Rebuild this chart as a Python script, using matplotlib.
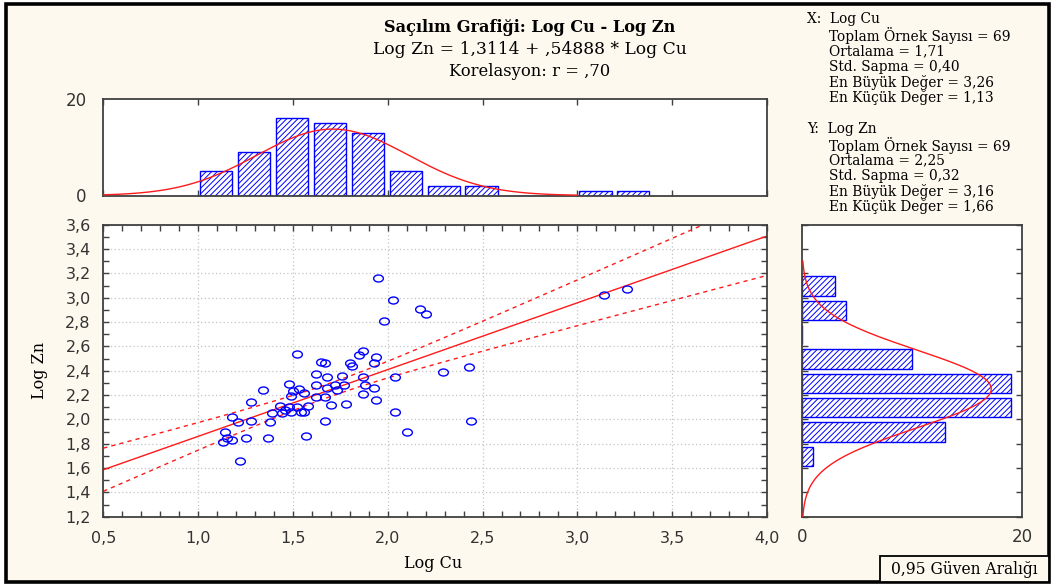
import numpy as np
import matplotlib
matplotlib.use('Agg')
from matplotlib import pyplot as plt
from matplotlib.path import Path
from matplotlib.patches import Rectangle
from matplotlib.ticker import MultipleLocator

# Log Cu / Log Zn ölçümleri
log_cu = [1.95, 2.03, 2.17, 2.20, 1.98, 1.52, 1.87, 1.85, 1.94, 1.93,
          1.65, 1.67, 1.80, 1.81, 1.62, 1.68, 1.76, 1.87, 2.04, 2.29,
          2.43, 1.48, 1.62, 1.72, 1.68, 1.73, 1.77, 1.88, 1.93, 1.34,
          1.53, 1.49, 1.62, 1.67, 1.87, 1.94, 1.28, 1.43, 1.48, 1.52,
          1.58, 1.70, 1.78, 1.39, 1.44, 1.49, 1.54, 1.56, 2.04, 1.18,
          1.21, 1.28, 1.38, 1.67, 2.44, 1.14, 2.10, 1.15, 1.18, 1.13,
          1.25, 1.37, 1.57, 1.22, 3.14, 3.26, 1.56, 1.50, 1.46]
log_zn = [3.16, 2.98, 2.91, 2.87, 2.81, 2.54, 2.56, 2.53, 2.51, 2.46,
          2.47, 2.46, 2.46, 2.44, 2.37, 2.35, 2.36, 2.35, 2.35, 2.39,
          2.43, 2.29, 2.28, 2.28, 2.26, 2.24, 2.28, 2.28, 2.26, 2.24,
          2.25, 2.19, 2.18, 2.18, 2.21, 2.16, 2.14, 2.11, 2.10, 2.10,
          2.11, 2.12, 2.13, 2.05, 2.05, 2.06, 2.06, 2.06, 2.06, 2.02,
          1.98, 1.99, 1.98, 1.99, 1.99, 1.90, 1.90, 1.85, 1.83, 1.81,
          1.85, 1.85, 1.86, 1.66, 3.02, 3.07, 2.22, 2.23, 2.08]

# histogram sınıfları (genişlik 0,2)
cu_bins = [1.0, 1.2, 1.4, 1.6, 1.8, 2.0, 2.2, 2.4, 2.6, 2.8, 3.0, 3.2]
cu_counts = [5, 9, 16, 15, 13, 5, 2, 2, 0, 0, 1, 1]
zn_bins = [1.6, 1.8, 2.0, 2.2, 2.4, 2.6, 2.8, 3.0]
zn_counts = [1, 13, 19, 19, 10, 0, 4, 3]

# özet istatistikler
n = 69
cu_mean, cu_std, cu_max, cu_min = 1.71, 0.40, 3.26, 1.13
zn_mean, zn_std, zn_max, zn_min = 2.25, 0.32, 3.16, 1.66
intercept, slope, r = 1.3114, 0.54888, 0.70
bin_w = 0.2

serif = 'DejaVu Serif'
sans = 'DejaVu Sans'
dark = '#333333'
red = '#ff1a1a'
blue = '#0000ff'
plt.rcParams['hatch.linewidth'] = 0.7

W, H = 1053, 584
fig = plt.figure(figsize=(W / 100, H / 100), dpi=100)
fig.patch.set_facecolor('white')

# krem zemin ve siyah çerçeve
def px_box(x0, y0, x1, y1):
    return (x0 / W, 1 - y1 / H), (x1 - x0) / W, (y1 - y0) / H

xy, w, h = px_box(6, 4, 1049, 582)
fig.patches.append(Rectangle(xy, w, h, transform=fig.transFigure, facecolor='#fdf9ee',
                             edgecolor='black', linewidth=2.6, zorder=-5))

def add_ax(x0, y0, x1, y1):
    xy, w, h = px_box(x0, y0, x1, y1)
    a = fig.add_axes([xy[0], xy[1], w, h])
    a.set_facecolor('white')
    for s in a.spines.values():
        s.set_color('#404040')
        s.set_linewidth(1.3)
    return a

ax = add_ax(103.3, 224.7, 767, 516.7)
axt = add_ax(103.3, 99, 767, 195.5)
axr = add_ax(802, 224.7, 1022, 516.7)

# saçılım grafiği
oval = Path(Path.unit_circle().vertices * [1, 0.72], Path.unit_circle().codes)
ax.plot(log_cu, log_zn, linestyle='none', marker=oval, markersize=7, markerfacecolor='none',
        markeredgecolor=blue, markeredgewidth=1.0, zorder=3)

# regresyon doğrusu ve %95 güven aralığı
xs = np.linspace(0.5, 4.0, 200)
fit = intercept + slope * xs
se_res = zn_std * np.sqrt((1 - r ** 2) * (n - 1) / (n - 2))
half = 1.996 * se_res * np.sqrt(1.0 / n + (xs - cu_mean) ** 2 / ((n - 1) * cu_std ** 2))
ax.plot(xs, fit, color=red, lw=1.0, zorder=2)
ax.plot(xs, fit + half, color=red, lw=1.0, ls=(0, (3, 3)), zorder=2)
ax.plot(xs, fit - half, color=red, lw=1.0, ls=(0, (3, 3)), zorder=2)

ax.set_xlim(0.5, 4.0)
ax.set_ylim(1.2, 3.6)
ax.xaxis.set_major_locator(MultipleLocator(0.5))
ax.xaxis.set_minor_locator(MultipleLocator(0.1))
ax.yaxis.set_major_locator(MultipleLocator(0.2))
ax.yaxis.set_minor_locator(MultipleLocator(0.1))
ax.tick_params(which='both', direction='in', top=True, right=True, length=4, width=1,
               color='#404040', labelsize=11.5, labelcolor=dark)
ax.tick_params(axis='x', pad=10)
ax.tick_params(axis='y', pad=9)
ax.set_xticklabels([('%.1f' % v).replace('.', ',') for v in ax.get_xticks()], family=sans)
ax.set_yticklabels([('%.1f' % v).replace('.', ',') for v in ax.get_yticks()], family=sans)
ax.grid(True, which='major', color='#c4c4c4', linestyle=(0, (1, 2)), linewidth=0.9)
ax.set_axisbelow(True)

# Log Cu histogramı
cu_x = np.array(cu_bins) + 0.01
axt.bar(cu_x, cu_counts, width=0.17, align='edge', facecolor='white', edgecolor=blue,
        hatch='//////', linewidth=1.0, zorder=2)
xc = np.linspace(0.5, 3.0, 200)
yc = n * bin_w * np.exp(-0.5 * ((xc - cu_mean) / cu_std) ** 2) / (cu_std * np.sqrt(2 * np.pi))
axt.plot(xc, yc, color=red, lw=1.0, zorder=3)
axt.set_xlim(0.5, 4.0)
axt.set_ylim(0, 20)
axt.xaxis.set_major_locator(MultipleLocator(0.5))
axt.set_xticklabels([])
axt.set_yticks([0, 20])
axt.tick_params(axis='x', direction='in', top=True, length=4, width=1, color='#404040')
axt.tick_params(axis='y', length=0, labelsize=12, labelcolor=dark, pad=12)

# Log Zn histogramı (yatay)
zn_y = np.array(zn_bins) + 0.017
axr.barh(zn_y, zn_counts, height=0.158, align='edge', facecolor='white', edgecolor=blue,
         hatch='//////', linewidth=1.0, zorder=2)
yz = np.linspace(1.2, 3.3, 200)
xz = n * bin_w * np.exp(-0.5 * ((yz - zn_mean) / zn_std) ** 2) / (zn_std * np.sqrt(2 * np.pi))
axr.plot(xz, yz, color=red, lw=1.0, zorder=3)
axr.set_xlim(0, 20)
axr.set_ylim(1.2, 3.6)
axr.yaxis.set_major_locator(MultipleLocator(0.2))
axr.set_yticklabels([])
axr.set_xticks([0, 20])
axr.tick_params(axis='y', direction='in', right=True, length=4, width=1, color='#404040')
axr.tick_params(axis='x', length=0, labelsize=12, labelcolor=dark, pad=8)

# başlık ve denklem
def ftext(x, y, s, **kw):
    fig.text(x / W, 1 - y / H, s, va='center', family=serif, color='black', **kw)

ftext(530, 27, 'Saçılım Grafiği: Log Cu - Log Zn', ha='center', fontsize=11.6, weight='bold')
ftext(530, 49, 'Log Zn = 1,3114 + ,54888 * Log Cu', ha='center', fontsize=12.3)
ftext(530, 72, 'Korelasyon: r = ,70', ha='center', fontsize=11.8)

# değişken özetleri
def fmt(v):
    return ('%.2f' % v).replace('.', ',')

fs = 9.9
ftext(807, 19, 'X:  Log Cu', ha='left', fontsize=fs)
cu_lines = ['Toplam Örnek Sayısı = %d' % n, 'Ortalama = ' + fmt(cu_mean),
            'Std. Sapma = ' + fmt(cu_std), 'En Büyük Değer = ' + fmt(cu_max),
            'En Küçük Değer = ' + fmt(cu_min)]
for i, s in enumerate(cu_lines):
    ftext(829, 36 + i * 15.4, s, ha='left', fontsize=fs)

ftext(807, 129, 'Y:  Log Zn', ha='left', fontsize=fs)
zn_lines = ['Toplam Örnek Sayısı = %d' % n, 'Ortalama = ' + fmt(zn_mean),
            'Std. Sapma = ' + fmt(zn_std), 'En Büyük Değer = ' + fmt(zn_max),
            'En Küçük Değer = ' + fmt(zn_min)]
for i, s in enumerate(zn_lines):
    ftext(829, 145 + i * 15.4, s, ha='left', fontsize=fs)

# eksen adları
ftext(433, 563, 'Log Cu', ha='center', fontsize=11.5)
fig.text(40 / W, 1 - 370 / H, 'Log Zn', rotation=90, ha='center', va='center',
         family=serif, fontsize=11.5)

# güven aralığı kutusu
xy, w, h = px_box(880, 556, 1049, 582)
fig.patches.append(Rectangle(xy, w, h, transform=fig.transFigure, facecolor='#fdf9ee',
                             edgecolor='black', linewidth=1.3, zorder=5))
fig.text(964 / W, 1 - 569 / H, '0,95 Güven Aralığı', ha='center', va='center',
         family=serif, fontsize=11.2, zorder=6)

plt.savefig('out.png', dpi=100)
